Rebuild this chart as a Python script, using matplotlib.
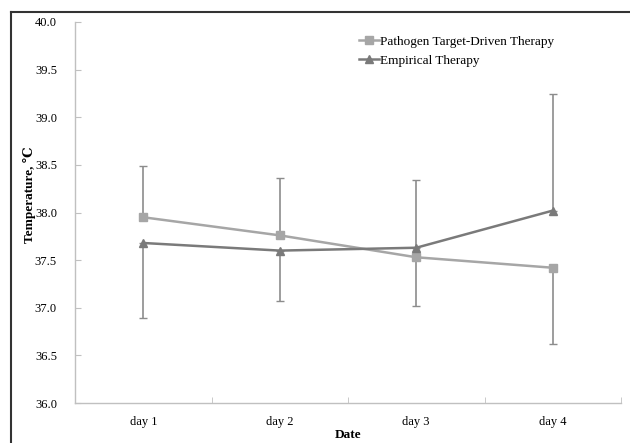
import numpy as np
import matplotlib
matplotlib.use("Agg")
import matplotlib.pyplot as plt
from matplotlib.lines import Line2D

days = ["day 1", "day 2", "day 3", "day 4"]
pathogen = [37.95, 37.76, 37.53, 37.42]
empirical = [37.68, 37.60, 37.63, 38.02]
# one-sided error bars (lower, upper)
pathogen_err_lo = [0.0, 0.0, 0.51, 0.80]
pathogen_err_hi = [0.54, 0.60, 0.0, 0.0]
empirical_err_lo = [0.79, 0.53, 0.0, 0.0]
empirical_err_hi = [0.0, 0.0, 0.71, 1.22]
yticks = [36.0, 36.5, 37.0, 37.5, 38.0, 38.5, 39.0, 39.5, 40.0]

serif = ["Liberation Serif", "DejaVu Serif"]
plt.rcParams["font.family"] = serif
fs = 9.5
fs_tick = 9

fig = plt.figure(figsize=(6.3, 4.43), dpi=100)
ax = fig.add_axes([75 / 630, 40 / 443, 546 / 630, 381 / 443])

x = np.arange(len(days))
c_path = "#a6a6a6"
c_emp = "#7a7a7a"
c_err = "#8c8c8c"

ax.errorbar(x, pathogen, yerr=[pathogen_err_lo, pathogen_err_hi], fmt="none",
            ecolor=c_err, elinewidth=1.2, capsize=3, capthick=1, zorder=2)
ax.errorbar(x, empirical, yerr=[empirical_err_lo, empirical_err_hi], fmt="none",
            ecolor=c_err, elinewidth=1.2, capsize=3, capthick=1, zorder=2)
ax.plot(x, pathogen, color=c_path, marker="s", markersize=6, linewidth=1.8,
        label="Pathogen Target-Driven Therapy", zorder=3)
ax.plot(x, empirical, color=c_emp, marker="^", markersize=6, linewidth=1.8,
        label="Empirical Therapy", zorder=3)

ax.set_xlim(-0.5, 3.5)
ax.set_ylim(36.0, 40.0)
ax.set_yticks(yticks)
ax.set_yticklabels([f"{t:.1f}" for t in yticks], fontsize=fs_tick)
ax.set_xticks(x)
ax.set_xticklabels(days, fontsize=fs_tick)
ax.set_xticks(np.arange(0.5, 4, 1), minor=True)
ax.tick_params(axis="x", which="major", length=0, pad=9)
ax.tick_params(axis="x", which="minor", length=4, direction="in", color="#c0c0c0")
ax.tick_params(axis="y", length=4, direction="in", color="#c0c0c0", pad=13)

for s in ["top", "right"]:
    ax.spines[s].set_visible(False)
for s in ["left", "bottom"]:
    ax.spines[s].set_color("#c0c0c0")
    ax.spines[s].set_linewidth(1)

ax.set_ylabel("Temperature, ℃", fontsize=fs, fontweight="bold", va="center")
ax.yaxis.set_label_coords(-0.084, 0.546)
ax.set_xlabel("Date", fontsize=fs, fontweight="bold", va="center")
ax.xaxis.set_label_coords(0.5, -0.084)

ax.legend(loc="upper left", bbox_to_anchor=(0.52, 0.965), frameon=False,
          fontsize=fs, handlelength=1.5, handletextpad=0.1, labelspacing=0.55,
          borderaxespad=0, borderpad=0)

# outer frame
fig.add_artist(Line2D([11 / 630, 11 / 630], [0, 1 - 12 / 443], transform=fig.transFigure,
                      color="#333333", linewidth=1.5))
fig.add_artist(Line2D([11 / 630, 1], [1 - 12 / 443, 1 - 12 / 443], transform=fig.transFigure,
                      color="#333333", linewidth=1.5))

fig.savefig("out.png", dpi=100)
